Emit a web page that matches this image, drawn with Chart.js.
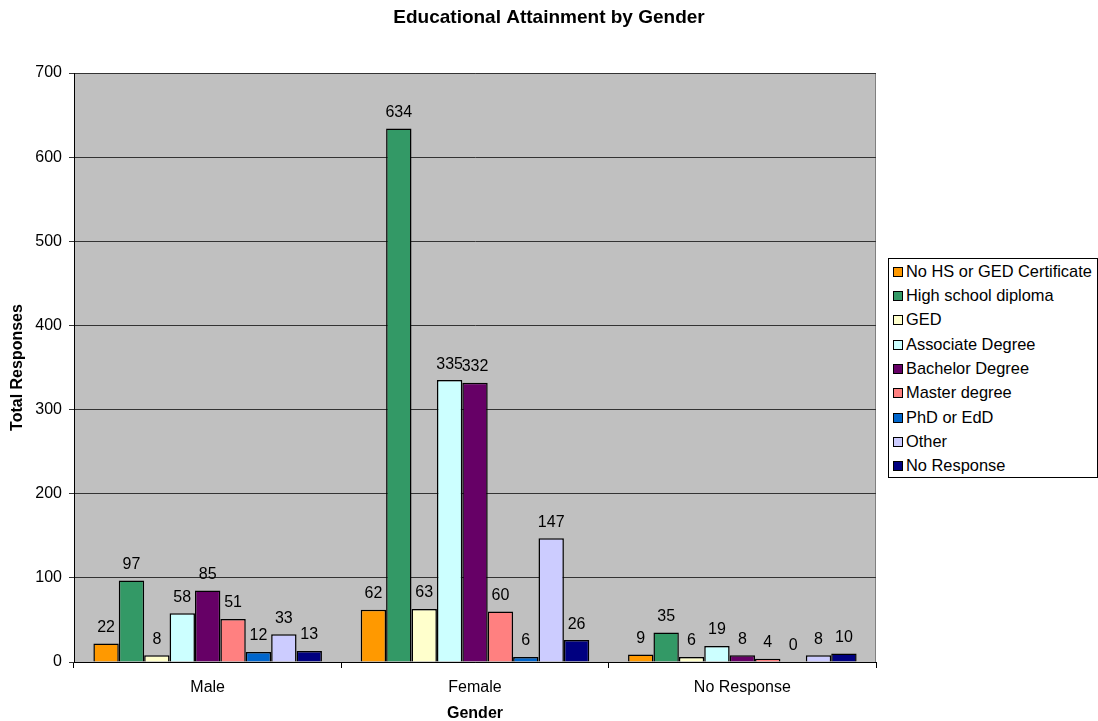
<!DOCTYPE html>
<html>
<head>
<meta charset="utf-8">
<script src="https://cdn.jsdelivr.net/npm/chart.js@4/dist/chart.umd.min.js"></script>
<style>
  html, body { margin: 0; padding: 0; background: #fff; }
  #wrap { position: relative; width: 1098px; height: 721px; }
  #c { position: absolute; left: 0; top: 0; }
  #legend { position: absolute; left: 888px; top: 258px; width: 208px; height: 218px;
    border: 1px solid #000; background: #fff; font-family: "Liberation Sans", Arial, sans-serif;
    font-size: 16.4px; color: #000; box-sizing: content-box; }
  .li { position: absolute; left: 4px; height: 16px; line-height: 16px; white-space: nowrap; }
  .sw { display: inline-block; width: 8px; height: 8px; border: 1px solid #000; margin-right: 3px; vertical-align: 0px; }
</style>
</head>
<body>
<div id="wrap">
  <canvas id="c" width="1098" height="721"></canvas>
  <div id="legend"></div>
</div>
<script>
const categories = ["Male", "Female", "No Response"];
const seriesNames = ["No HS or GED Certificate", "High school diploma", "GED", "Associate Degree",
  "Bachelor Degree", "Master degree", "PhD or EdD", "Other", "No Response"];
const noHS       = [22, 62, 9];
const highSchool = [97, 634, 35];
const ged        = [8, 63, 6];
const associate  = [58, 335, 19];
const bachelor   = [85, 332, 8];
const master     = [51, 60, 4];
const phd        = [12, 6, 0];
const other      = [33, 147, 8];
const noResponse = [13, 26, 10];
const seriesValues = [noHS, highSchool, ged, associate, bachelor, master, phd, other, noResponse];
const colors = ["#FF9900", "#339966", "#FFFFCC", "#CCFFFF", "#660066", "#FF8080", "#0066CC", "#CCCCFF", "#000080"];
const yTicks = [0, 100, 200, 300, 400, 500, 600, 700];
const chartTitle = "Educational Attainment by Gender";

const FONT = "'Liberation Sans', Arial, sans-serif";

const plotBg = {
  id: 'plotBg',
  beforeDraw(chart) {
    const {ctx, chartArea: a} = chart;
    ctx.save();
    ctx.fillStyle = '#C0C0C0';
    ctx.fillRect(a.left, a.top, a.right - a.left, a.bottom - a.top);
    ctx.strokeStyle = '#808080';
    ctx.lineWidth = 1;
    ctx.strokeRect(a.left + 0.5, a.top + 0.5, a.right - a.left - 1, a.bottom - a.top);
    ctx.restore();
  },
  afterDraw(chart) {
    const ctx = chart.ctx;
    ctx.save();
    ctx.font = 'bold 19px ' + FONT;
    ctx.fillStyle = '#000';
    ctx.textAlign = 'center';
    ctx.textBaseline = 'middle';
    ctx.fillText(chartTitle, chart.width / 2, 18);
    ctx.restore();
  }
};

const valueLabels = {
  id: 'valueLabels',
  afterDatasetsDraw(chart) {
    const ctx = chart.ctx;
    ctx.save();
    ctx.font = '16px ' + FONT;
    ctx.fillStyle = '#000';
    ctx.textAlign = 'center';
    ctx.textBaseline = 'middle';
    chart.data.datasets.forEach((ds, i) => {
      chart.getDatasetMeta(i).data.forEach((bar, j) => {
        ctx.fillText(String(ds.data[j]), bar.x, bar.y - 16);
      });
    });
    ctx.restore();
  }
};

new Chart(document.getElementById('c'), {
  type: 'bar',
  data: {
    labels: categories,
    datasets: seriesNames.map((n, i) => ({
      label: n,
      data: seriesValues[i],
      backgroundColor: colors[i],
      borderColor: '#000',
      borderWidth: 1.5,
      categoryPercentage: 0.855,
      barPercentage: 1.0
    }))
  },
  options: {
    responsive: false,
    animation: false,
    devicePixelRatio: 1,
    layout: { padding: { left: 0, right: 222, top: 73, bottom: 0 } },
    plugins: {
      legend: { display: false },
      tooltip: { enabled: false },
      title: { display: false }
    },
    scales: {
      x: {
        afterFit(s) { s.height = 59; },
        grid: { drawOnChartArea: false, drawTicks: true, tickLength: 6, color: '#000', offset: true },
        border: { color: '#000', width: 1 },
        ticks: { color: '#000', font: { family: FONT, size: 16 }, padding: 10 },
        title: { display: true, text: 'Gender', color: '#000',
          font: { family: FONT, size: 16, weight: 'bold' }, padding: { top: 6, bottom: -2 } }
      },
      y: {
        min: 0, max: 700,
        afterFit(s) { s.width = 74; },
        afterBuildTicks(s) { s.ticks = yTicks.map(v => ({ value: v })); },
        grid: { color: '#333', lineWidth: 1, drawTicks: true, tickLength: 5 },
        border: { color: '#000', width: 1 },
        ticks: { color: '#000', font: { family: FONT, size: 16 }, padding: 7 },
        title: { display: true, text: 'Total Responses', color: '#000',
          font: { family: FONT, size: 16, weight: 'bold' }, padding: { top: 8, bottom: 0 } }
      }
    }
  },
  plugins: [plotBg, valueLabels]
});

const leg = document.getElementById('legend');
const rowY = [4, 28, 52, 77, 101, 125, 150, 174, 198];
seriesNames.forEach((n, i) => {
  const d = document.createElement('div');
  d.className = 'li';
  d.style.top = rowY[i] + 'px';
  const sw = document.createElement('span');
  sw.className = 'sw';
  sw.style.background = colors[i];
  d.appendChild(sw);
  d.appendChild(document.createTextNode(n));
  leg.appendChild(d);
});
</script>
</body>
</html>
